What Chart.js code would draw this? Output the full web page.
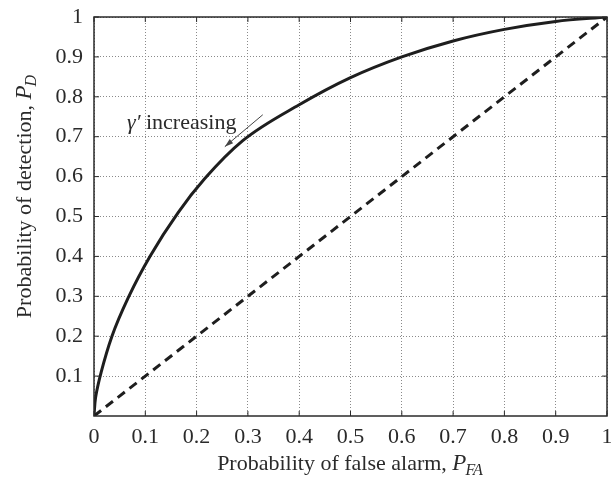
<!DOCTYPE html>
<html>
<head>
<meta charset="utf-8">
<script src="https://cdn.jsdelivr.net/npm/chart.js@4"></script>
<style>
  html, body { margin: 0; padding: 0; background: #fff; }
  #wrap { width: 611px; height: 490px; }
</style>
</head>
<body>
<div id="wrap"><canvas id="roc"></canvas></div>
<script>
// curva ROC
const pfa = [0, 0.002, 0.005, 0.014, 0.035, 0.068, 0.109, 0.164, 0.216, 0.29, 0.4, 0.5, 0.6, 0.7, 0.8, 0.9, 1];
const pd  = [0, 0.035, 0.06, 0.11, 0.2, 0.3, 0.4, 0.51, 0.595, 0.69, 0.78, 0.848, 0.9, 0.94, 0.969, 0.989, 1];
// linha de chance
const chanceX = [0, 1];
const chanceY = [0, 1];
const xTicks = [0, 0.1, 0.2, 0.3, 0.4, 0.5, 0.6, 0.7, 0.8, 0.9, 1];
const yTicks = [0.1, 0.2, 0.3, 0.4, 0.5, 0.6, 0.7, 0.8, 0.9, 1];
// anotacao: seta de (x0,y0) para (x1,y1)
const arrowFrom = [0.329, 0.755];
const arrowTo = [0.255, 0.675];

const serif = '"Liberation Serif", "DejaVu Serif", serif';
const ink = '#2a2a2a';

const toPts = (xs, ys) => xs.map((x, i) => ({ x: x, y: ys[i] }));

// desenha "texto + P_sub" a partir de x0
function subTitle(c, x0, y, txt, sub, size) {
    c.font = size + 'px ' + serif;
    const w1 = c.measureText(txt).width;
    c.fillText(txt, x0, y);
    c.font = 'italic ' + (size + 1) + 'px ' + serif;
    const wP = c.measureText('P').width;
    c.fillText('P', x0 + w1, y);
    c.font = 'italic ' + Math.round(size * 0.72) + 'px ' + serif;
    c.fillText(sub, x0 + w1 + wP - 1, y + 5);
}
function subWidth(c, txt, sub, size) {
    c.font = size + 'px ' + serif;
    let w = c.measureText(txt).width;
    c.font = 'italic ' + (size + 1) + 'px ' + serif;
    w += c.measureText('P').width;
    c.font = 'italic ' + Math.round(size * 0.72) + 'px ' + serif;
    return w + c.measureText(sub).width;
}

// moldura, marcas internas, titulos e anotacao
const extras = {
    id: 'extras',
    afterDraw(chart) {
        const c = chart.ctx;
        const a = chart.chartArea;
        const sx = chart.scales.x, sy = chart.scales.y;
        c.save();
        // marcas internas nos quatro lados
        c.strokeStyle = ink;
        c.lineWidth = 1;
        xTicks.forEach(v => {
            const px = sx.getPixelForValue(v);
            c.beginPath();
            c.moveTo(px, a.bottom); c.lineTo(px, a.bottom - 5);
            c.moveTo(px, a.top); c.lineTo(px, a.top + 5);
            c.stroke();
        });
        yTicks.forEach(v => {
            const py = sy.getPixelForValue(v);
            c.beginPath();
            c.moveTo(a.left, py); c.lineTo(a.left + 5, py);
            c.moveTo(a.right, py); c.lineTo(a.right - 5, py);
            c.stroke();
        });
        // moldura
        c.lineWidth = 1.5;
        c.strokeRect(a.left, a.top, a.right - a.left, a.bottom - a.top);

        c.fillStyle = ink;
        c.textBaseline = 'alphabetic';
        c.textAlign = 'left';
        // titulo eixo x
        const xt = 'Probability of false alarm, ';
        const wx = subWidth(c, xt, 'FA', 22);
        subTitle(c, (a.left + a.right) / 2 - wx / 2, 470, xt, 'FA', 22);

        // titulo eixo y
        c.save();
        c.translate(31, 196);
        c.rotate(-Math.PI / 2);
        const yt = 'Probability of detection, ';
        const wy = subWidth(c, yt, 'D', 22);
        subTitle(c, -wy / 2, 0, yt, 'D', 22);
        c.restore();

        // anotacao
        const ax0 = sx.getPixelForValue(arrowFrom[0]), ay0 = sy.getPixelForValue(arrowFrom[1]);
        const ax1 = sx.getPixelForValue(arrowTo[0]), ay1 = sy.getPixelForValue(arrowTo[1]);
        c.strokeStyle = '#444';
        c.fillStyle = '#444';
        c.lineWidth = 1;
        c.beginPath(); c.moveTo(ax0, ay0); c.lineTo(ax1, ay1); c.stroke();
        const ang = Math.atan2(ay1 - ay0, ax1 - ax0);
        c.beginPath();
        c.moveTo(ax1, ay1);
        c.lineTo(ax1 - 9 * Math.cos(ang - 0.3), ay1 - 9 * Math.sin(ang - 0.3));
        c.lineTo(ax1 - 9 * Math.cos(ang + 0.3), ay1 - 9 * Math.sin(ang + 0.3));
        c.closePath(); c.fill();

        c.fillStyle = ink;
        c.font = 'italic 22px ' + serif;
        const tx = 127, ty = 129;
        c.fillText('\u03b3\u2032', tx, ty);
        const wg = c.measureText('\u03b3\u2032').width;
        c.font = '22px ' + serif;
        c.fillText(' increasing', tx + wg, ty);
        c.restore();
    }
};

const ctx = document.getElementById('roc').getContext('2d');
new Chart(ctx, {
    type: 'scatter',
    data: {
        datasets: [{
            data: toPts(pfa, pd),
            showLine: true,
            borderColor: '#1e1e1e',
            borderWidth: 3,
            pointRadius: 0,
            cubicInterpolationMode: 'monotone',
            fill: false
        }, {
            data: toPts(chanceX, chanceY),
            showLine: true,
            borderColor: '#1e1e1e',
            borderWidth: 3,
            borderDash: [9, 6],
            pointRadius: 0,
            fill: false
        }]
    },
    options: {
        responsive: true,
        maintainAspectRatio: false,
        animation: false,
        layout: { padding: { top: 17, right: 4, left: 0, bottom: 0 } },
        scales: {
            x: {
                type: 'linear',
                min: 0, max: 1,
                afterBuildTicks: s => { s.ticks = xTicks.map(v => ({ value: v })); },
                afterFit: s => { s.height = 74; s.paddingLeft = 0; s.paddingRight = 0; },
                grid: { color: '#8a8a8a', lineWidth: 1, drawTicks: false },
                border: { display: false, dash: [1, 2] },
                ticks: {
                    padding: 8,
                    color: ink,
                    font: { family: serif, size: 22 },
                    maxRotation: 0,
                    callback: v => String(v)
                }
            },
            y: {
                type: 'linear',
                min: 0, max: 1,
                afterBuildTicks: s => { s.ticks = yTicks.map(v => ({ value: v })); },
                afterFit: s => { s.width = 94; s.paddingTop = 0; s.paddingBottom = 0; },
                grid: { color: '#8a8a8a', lineWidth: 1, drawTicks: false },
                border: { display: false, dash: [1, 2] },
                ticks: {
                    padding: 11,
                    color: ink,
                    font: { family: serif, size: 22 },
                    callback: v => String(v)
                }
            }
        },
        plugins: {
            legend: { display: false },
            tooltip: { enabled: false }
        }
    },
    plugins: [extras]
});
</script>
</body>
</html>
